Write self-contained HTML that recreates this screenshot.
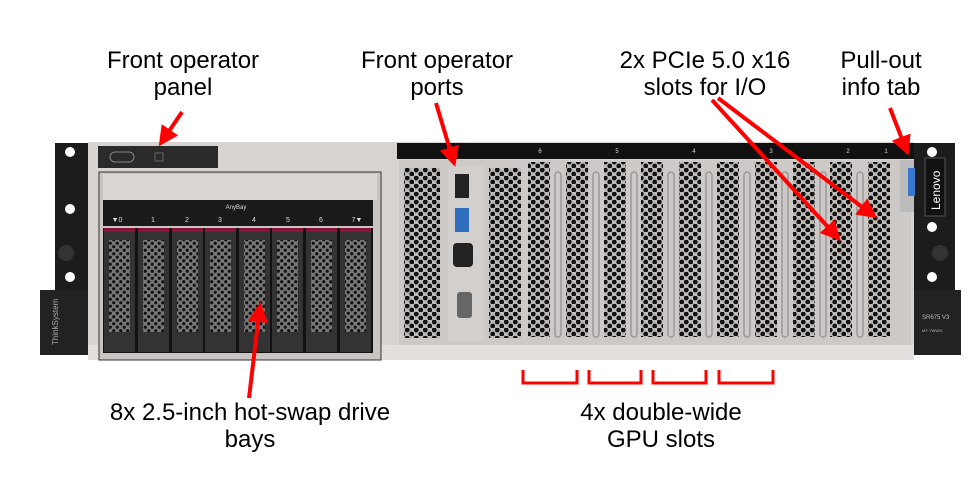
<!DOCTYPE html>
<html><head><meta charset="utf-8"><style>
html,body{margin:0;padding:0;background:#fff;}
svg{display:block;}
text{font-family:"Liberation Sans",Arial,sans-serif;}
</style></head><body>
<svg width="979" height="478" viewBox="0 0 979 478" xmlns="http://www.w3.org/2000/svg">
<defs>
<pattern id="hex" width="7" height="7" patternUnits="userSpaceOnUse">
<rect width="7" height="7" fill="#777"/>
<circle cx="1.75" cy="1.75" r="1.6" fill="#111"/>
<circle cx="5.25" cy="5.25" r="1.6" fill="#111"/>
</pattern>
<pattern id="hex2" width="9" height="8" patternUnits="userSpaceOnUse">
<rect width="9" height="8" fill="#bdb9b6"/>
<circle cx="2.25" cy="2" r="2.4" fill="#111"/>
<circle cx="6.75" cy="6" r="2.4" fill="#111"/>
</pattern>
<marker id="ah" markerWidth="5" markerHeight="5" refX="4" refY="2.5" orient="auto" markerUnits="strokeWidth">
<path d="M0,0 L5,2.5 L0,5 z" fill="#f00"/>
</marker>
</defs>

<!-- left ear -->
<rect x="55" y="143" width="36" height="150" fill="#1c1c1c"/>
<circle cx="70" cy="152" r="5" fill="#fff"/>
<circle cx="70" cy="209" r="5" fill="#fff"/>
<circle cx="70" cy="277" r="5" fill="#fff"/>
<circle cx="66" cy="253" r="8" fill="#333"/>
<rect x="40" y="290" width="52" height="65" fill="#222"/>
<text x="0" y="0" transform="translate(58,345) rotate(-90)" font-size="8" fill="#aaa">ThinkSystem</text>

<!-- right ear -->
<rect x="912" y="143" width="43" height="150" fill="#1c1c1c"/>
<circle cx="932" cy="152" r="5" fill="#fff"/>
<circle cx="932" cy="227" r="5" fill="#fff"/>
<circle cx="932" cy="277" r="5" fill="#fff"/>
<circle cx="940" cy="253" r="8" fill="#333"/>
<rect x="925" y="158" width="20" height="58" fill="#111" stroke="#555"/>
<text x="0" y="0" transform="translate(940,210) rotate(-90)" font-size="12" fill="#fff">Lenovo</text>
<rect x="913" y="290" width="48" height="65" fill="#222"/>
<text x="922" y="319" font-size="6" fill="#bbb">SR675 V3</text>
<text x="922" y="332" font-size="4" fill="#bbb">MT: 7WWS-</text>

<!-- chassis -->
<rect x="88" y="142" width="826" height="218" fill="#d7d3d0"/>
<rect x="88" y="345" width="826" height="15" fill="#e2dfdc"/>

<!-- front operator panel -->
<rect x="98" y="146" width="120" height="22" fill="#2a2a2a"/>
<rect x="110" y="152" width="24" height="10" rx="5" fill="none" stroke="#888"/>
<rect x="155" y="153" width="8" height="8" fill="none" stroke="#666"/>

<!-- drive cage -->
<rect x="99" y="172" width="282" height="188" fill="#c9c5c2" stroke="#333" stroke-width="1"/>
<rect x="103" y="174" width="274" height="26" fill="#d9d6d3"/>
<rect x="103" y="200" width="270" height="26" fill="#1a1a1a"/>
<text x="236" y="209" font-size="6" fill="#ddd" text-anchor="middle">AnyBay</text>
<g font-size="7" fill="#ddd" text-anchor="middle">
<text x="117" y="222">▼0</text><text x="153" y="222">1</text><text x="187" y="222">2</text><text x="220" y="222">3</text><text x="254" y="222">4</text><text x="288" y="222">5</text><text x="321" y="222">6</text><text x="357" y="222">7▼</text>
</g>
<rect x="103" y="228" width="270" height="125" fill="#111"/>
<g>
<rect x="104" y="228" width="31" height="124" fill="#333"/><rect x="104" y="228" width="31" height="4" fill="#8a1438"/><rect x="109" y="240" width="21" height="92" fill="url(#hex)"/>
<rect x="138" y="228" width="31" height="124" fill="#333"/><rect x="138" y="228" width="31" height="4" fill="#8a1438"/><rect x="143" y="240" width="21" height="92" fill="url(#hex)"/>
<rect x="172" y="228" width="31" height="124" fill="#333"/><rect x="172" y="228" width="31" height="4" fill="#8a1438"/><rect x="177" y="240" width="21" height="92" fill="url(#hex)"/>
<rect x="205" y="228" width="31" height="124" fill="#333"/><rect x="205" y="228" width="31" height="4" fill="#8a1438"/><rect x="210" y="240" width="21" height="92" fill="url(#hex)"/>
<rect x="239" y="228" width="31" height="124" fill="#333"/><rect x="239" y="228" width="31" height="4" fill="#8a1438"/><rect x="244" y="240" width="21" height="92" fill="url(#hex)"/>
<rect x="272" y="228" width="31" height="124" fill="#333"/><rect x="272" y="228" width="31" height="4" fill="#8a1438"/><rect x="277" y="240" width="21" height="92" fill="url(#hex)"/>
<rect x="306" y="228" width="31" height="124" fill="#333"/><rect x="306" y="228" width="31" height="4" fill="#8a1438"/><rect x="311" y="240" width="21" height="92" fill="url(#hex)"/>
<rect x="340" y="228" width="31" height="124" fill="#333"/><rect x="340" y="228" width="31" height="4" fill="#8a1438"/><rect x="345" y="240" width="21" height="92" fill="url(#hex)"/>
</g>

<!-- right section -->
<rect x="397" y="143" width="517" height="16" fill="#111"/>
<g font-size="6" fill="#ddd" text-anchor="middle">
<text x="540" y="153">6</text><text x="617" y="153">5</text><text x="694" y="153">4</text><text x="771" y="153">3</text><text x="848" y="153">2</text><text x="886" y="153">1</text>
</g>
<rect x="399" y="160" width="512" height="185" fill="#cdc9c6"/>
<rect x="404" y="168" width="36" height="170" fill="url(#hex2)"/>
<rect x="448" y="166" width="36" height="175" fill="#d3cfcc"/>
<rect x="455" y="174" width="14" height="24" fill="#222"/>
<rect x="455" y="208" width="14" height="24" fill="#2f6fc0"/>
<rect x="453" y="243" width="20" height="24" rx="4" fill="#222"/>
<rect x="457" y="292" width="15" height="26" rx="3" fill="#666"/>
<rect x="489" y="168" width="32" height="170" fill="url(#hex2)"/>
<g>
<rect x="528" y="162" width="22" height="175" fill="url(#hex2)"/>
<rect x="566" y="162" width="22" height="175" fill="url(#hex2)"/>
<rect x="604" y="162" width="22" height="175" fill="url(#hex2)"/>
<rect x="641" y="162" width="22" height="175" fill="url(#hex2)"/>
<rect x="679" y="162" width="22" height="175" fill="url(#hex2)"/>
<rect x="717" y="162" width="22" height="175" fill="url(#hex2)"/>
<rect x="755" y="162" width="22" height="175" fill="url(#hex2)"/>
<rect x="793" y="162" width="22" height="175" fill="url(#hex2)"/>
<rect x="830" y="162" width="22" height="175" fill="url(#hex2)"/>
<rect x="868" y="162" width="22" height="175" fill="url(#hex2)"/>
</g>
<g fill="none" stroke="#999" stroke-width="1.5">
<rect x="555" y="172" width="6" height="165" rx="3"/>
<rect x="593" y="172" width="6" height="165" rx="3"/>
<rect x="631" y="172" width="6" height="165" rx="3"/>
<rect x="668" y="172" width="6" height="165" rx="3"/>
<rect x="706" y="172" width="6" height="165" rx="3"/>
<rect x="744" y="172" width="6" height="165" rx="3"/>
<rect x="782" y="172" width="6" height="165" rx="3"/>
<rect x="820" y="172" width="6" height="165" rx="3"/>
<rect x="857" y="172" width="6" height="165" rx="3"/>
</g>
<rect x="900" y="160" width="14" height="52" fill="#bbb"/>
<rect x="908" y="168" width="7" height="28" fill="#3a78d0"/>

<!-- arrows -->
<g stroke="#f00" stroke-width="4" fill="none" marker-end="url(#ah)">
<line x1="182" y1="112" x2="161" y2="143"/>
<line x1="436" y1="103" x2="454" y2="163"/>
<line x1="712" y1="100" x2="838" y2="238"/>
<line x1="718" y1="98" x2="874" y2="216"/>
<line x1="890" y1="108" x2="907" y2="152"/>
<line x1="249" y1="398" x2="260" y2="306"/>
</g>
<g stroke="#f00" stroke-width="3" fill="none">
<path d="M523,370 V383 H577 V370"/>
<path d="M589,370 V383 H641 V370"/>
<path d="M653,370 V383 H706 V370"/>
<path d="M719,370 V383 H773 V370"/>
</g>

<!-- labels -->
<g font-size="24" fill="#000" text-anchor="middle">
<text x="183" y="68">Front operator</text><text x="183" y="95">panel</text>
<text x="437" y="68">Front operator</text><text x="437" y="95">ports</text>
<text x="705" y="68">2x PCIe 5.0 x16</text><text x="705" y="95">slots for I/O</text>
<text x="881" y="68">Pull-out</text><text x="881" y="95">info tab</text>
<text x="250" y="420">8x 2.5-inch hot-swap drive</text><text x="250" y="447">bays</text>
<text x="661" y="420">4x double-wide</text><text x="661" y="447">GPU slots</text>
</g>
</svg>
</body></html>
